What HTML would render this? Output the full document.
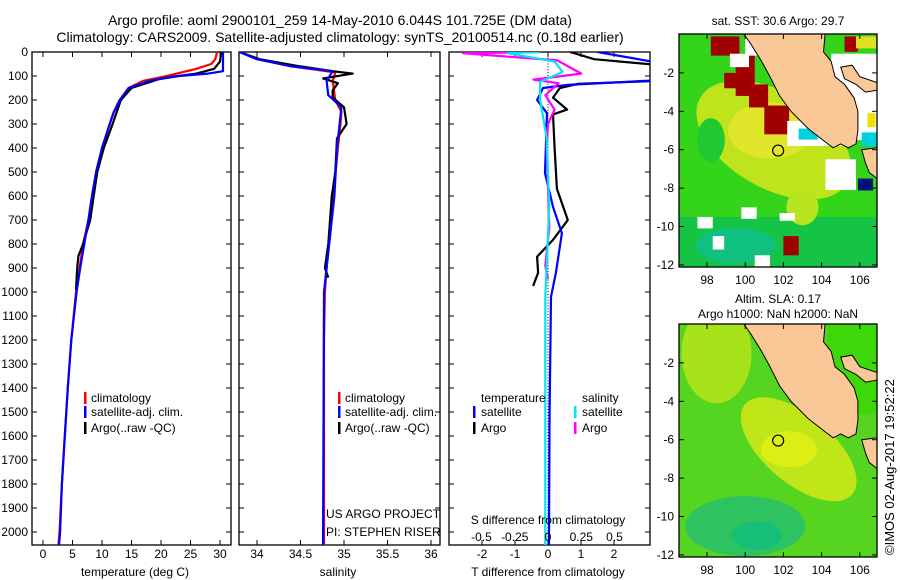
<!DOCTYPE html>
<html><head><meta charset="utf-8">
<style>
html,body{margin:0;padding:0;background:#fff;width:900px;height:580px;overflow:hidden}
svg{display:block;font-family:"Liberation Sans",sans-serif}
text{fill:#000}
</style></head>
<body>
<svg id="fig" width="900" height="580" viewBox="0 0 900 580" xmlns="http://www.w3.org/2000/svg">
<defs>
<clipPath id="c1"><rect x="32" y="52" width="199" height="493"/></clipPath>
<clipPath id="c2"><rect x="239" y="52" width="201" height="493"/></clipPath>
<clipPath id="c3"><rect x="449" y="52" width="201" height="493"/></clipPath>
<clipPath id="m1"><rect x="679" y="34" width="198" height="233"/></clipPath>
<clipPath id="m2"><rect x="679" y="324" width="198" height="233"/></clipPath>
</defs>
<text x="340" y="25" font-size="14" text-anchor="middle">Argo profile: aoml 2900101_259 14-May-2010 6.044S 101.725E (DM data)</text>
<text x="340" y="42" font-size="14" text-anchor="middle">Climatology: CARS2009. Satellite-adjusted climatology: synTS_20100514.nc (0.18d earlier)</text>
<g id="panels"></g>
<g id="maps"></g>
<text transform="translate(894,555) rotate(-90)" font-size="13">©IMOS 02-Aug-2017 19:52:22</text>
</svg>
<script>
// ---- data (depth in m) ----
const tClimDepth=[0,30,50,70,100,120,150,200,250,300,400,500,600,700,800,900,1000,1200,1400,1600,1800,2000,2060];
const tClimVal=[29.5,29.2,28.5,26,21,17,14.5,13,12,11.3,10,9,8.3,7.7,6.8,6.2,5.6,4.8,4.2,3.7,3.2,2.8,2.6];
const tSatDepth=[0,80,90,100,120,150,200,250,300,400,500,600,700,800,900,1000,1200,1400,1600,1800,2000,2060];
const tSatVal=[30.5,30.5,28,23,18,14.5,13,12,11.3,10,9,8.3,7.7,7,6.3,5.7,4.8,4.2,3.7,3.2,2.9,2.7];
const tArgoDepth=[0,40,70,90,110,150,200,300,400,500,600,700,800,850,900,990];
const tArgoVal=[30.2,30,29,26,20,15,13.2,11.8,10.3,9.2,8.6,8,6.8,6,5.8,5.6];
const sClimDepth=[0,30,60,85,120,200,250,300,400,700,900,1000,1200,2060];
const sClimVal=[33.8,34.0,34.4,34.9,34.87,34.9,34.97,34.96,34.93,34.85,34.8,34.78,34.77,34.77];
const sSatDepth=[0,30,60,80,120,180,230,400,600,900,1000,2000,2060];
const sSatVal=[33.8,34.0,34.4,34.87,34.8,34.82,34.97,34.92,34.89,34.8,34.77,34.76,34.76];
const sArgoDepth=[0,30,60,80,90,110,130,160,190,230,300,360,500,600,800,900,940];
const sArgoVal=[33.8,34.03,34.5,34.87,35.1,34.76,34.93,34.87,34.87,35.0,35.03,34.92,34.9,34.86,34.82,34.78,34.82];
const dtSatDepth=[0,46,117,137,150,200,255,505,645,755,920,1020,1500,2000,2060];
const dtSatVal=[1.5,3.4,3.4,0.6,-0.15,-0.33,-0.03,-0.09,0.15,0.42,0.24,0.09,0.05,0.03,0.03];
const dtArgoDepth=[0,30,55,120,133,150,190,240,260,400,570,700,783,853,920,975];
const dtArgoVal=[0.67,1.4,3.4,3.4,0.9,0.36,0.15,0.58,0.15,0.2,0.27,0.6,0.15,-0.33,-0.3,-0.45];
const dsSatDepth=[0,5,40,83,125,195,360,645,1020,1500,2000,2060];
const dsSatVal=[-0.06,-0.3,0.05,0.11,-0.06,-0.06,-0.01,0.01,-0.02,-0.02,-0.02,-0.02];
const dsArgoDepth=[0,5,35,90,115,130,180,240,300,400,730,890,945];
const dsArgoVal=[-0.06,-0.64,0.07,0.25,-0.11,0.08,-0.02,0.05,0.0,-0.01,0.01,-0.02,0.0];
const depthTicks=[0,100,200,300,400,500,600,700,800,900,1000,1100,1200,1300,1400,1500,1600,1700,1800,1900,2000];
const tempTicks=[0,5,10,15,20,25,30];
const salTicks=[34,34.5,35,35.5,36];
const dtTicks=[-2,-1,0,1,2];
const dsTicks=[-0.5,-0.25,0,0.25,0.5];

const NS="http://www.w3.org/2000/svg";
const P=document.getElementById('panels');
function mk(tag,attrs,parent){const e=document.createElementNS(NS,tag);for(const k in attrs)e.setAttribute(k,attrs[k]);(parent||P).appendChild(e);return e;}
const yD=d=>52+d*0.24;
const xT=v=>43+v*5.9;
const xS=v=>257+(v-34)*87;
const xDT=v=>548+v*33;
const xDS=v=>548+v*133;

function frame(x,w,name){
  const r=mk('rect',{x:x,y:52,width:w,height:493,fill:'none',stroke:'#000','stroke-width':1.3});
  
  
  depthTicks.forEach(d=>{
    mk('line',{x1:x,x2:x+5,y1:yD(d),y2:yD(d),stroke:'#000'});
    mk('line',{x1:x+w-5,x2:x+w,y1:yD(d),y2:yD(d),stroke:'#000'});
  });
}
function xticks(ticks,fx,name,fmt){
  ticks.forEach(t=>{
    const x=fx(t);
    mk('line',{x1:x,x2:x,y1:545,y2:540,stroke:'#000'});
    mk('line',{x1:x,x2:x,y1:52,y2:57,stroke:'#000'});
    const tx=mk('text',{x:x,y:558,'font-size':12,'text-anchor':'middle'});
    tx.textContent=fmt?fmt(t):String(t);
    
    
  });
}
function line(ds,vs,fx,color,clip,name,w){
  const pts=ds.map((d,i)=>fx(vs[i]).toFixed(1)+','+yD(d).toFixed(1)).join(' ');
  const l=mk('polyline',{points:pts,fill:'none',stroke:color,'stroke-width':w||2.2,'clip-path':'url(#'+clip+')','stroke-linejoin':'round'});
  
  
}
function label(x,y,s,name,anchor,size){
  const t=mk('text',{x:x,y:y,'font-size':size||12,'text-anchor':anchor||'start'});
  t.textContent=s;
  
  
}
function legBar(x,y,color,name){
  const r=mk('rect',{x:x,y:y-10,width:2.5,height:12,fill:color});
  
  
}
// panel 1
frame(32,199,'temperature-panel');
depthTicks.forEach(d=>label(28,yD(d)+4,String(d),'depth-tick-label','end'));
xticks(tempTicks,xT,'temperature-tick-label');
line(tClimDepth,tClimVal,xT,'#ff0000','c1','temperature-climatology-line');
line(tArgoDepth,tArgoVal,xT,'#000000','c1','temperature-argo-line');
line(tSatDepth,tSatVal,xT,'#0000ff','c1','temperature-satellite-line');
label(135,576,'temperature (deg C)','temperature-axis-title','middle');
legBar(84,402,'#ff0000','legend-climatology-marker');label(91,402,'climatology','legend-climatology');
legBar(84,416,'#0000ff','legend-satellite-marker');label(91,416,'satellite-adj. clim.','legend-satellite');
legBar(84,432,'#000','legend-argo-marker');label(91,432,'Argo(..raw -QC)','legend-argo');
// panel 2
frame(239,201,'salinity-panel');
xticks(salTicks,xS,'salinity-tick-label');
line(sClimDepth,sClimVal,xS,'#ff0000','c2','salinity-climatology-line');
line(sArgoDepth,sArgoVal,xS,'#000000','c2','salinity-argo-line');
line(sSatDepth,sSatVal,xS,'#0000ff','c2','salinity-satellite-line');
label(338,576,'salinity','salinity-axis-title','middle');
legBar(338,402,'#ff0000','legend2-climatology-marker');label(345,402,'climatology','legend2-climatology');
legBar(338,416,'#0000ff','legend2-satellite-marker');label(345,416,'satellite-adj. clim.','legend2-satellite');
legBar(338,432,'#000','legend2-argo-marker');label(345,432,'Argo(..raw -QC)','legend2-argo');
label(326,518,'US ARGO PROJECT','project-label');
label(326,536,'PI: STEPHEN RISER','pi-label');
// panel 3
frame(449,201,'difference-panel');
xticks(dtTicks,xDT,'t-difference-tick-label');
for(let d=0;d<=2060;d+=12){mk('rect',{x:547.5,y:yD(d),width:1,height:1,fill:'#000'});}
line(dtArgoDepth,dtArgoVal,xDT,'#000000','c3','t-difference-argo-line');
line(dtSatDepth,dtSatVal,xDT,'#0000ff','c3','t-difference-satellite-line');
line(dsArgoDepth,dsArgoVal,xDS,'#ff00ff','c3','s-difference-argo-line');
line(dsSatDepth,dsSatVal,xDS,'#00e5ee','c3','s-difference-satellite-line');
label(548,576,'T difference from climatology','t-difference-axis-title','middle');
label(548,524,'S difference from climatology','s-difference-axis-title','middle');
dsTicks.forEach(t=>label(xDS(t),541,String(t),'s-difference-tick-label','middle'));
label(481,402,'temperature','legend3-temperature-header');
label(582,402,'salinity','legend3-salinity-header');
legBar(473,416,'#0000ff','legend3-t-satellite-marker');label(481,416,'satellite','legend3-t-satellite');
legBar(473,432,'#000','legend3-t-argo-marker');label(481,432,'Argo','legend3-t-argo');
legBar(574,416,'#00e5ee','legend3-s-satellite-marker');label(582,416,'satellite','legend3-s-satellite');
legBar(574,432,'#ff00ff','legend3-s-argo-marker');label(582,432,'Argo','legend3-s-argo');

// ---- maps ----
const M=document.getElementById('maps');
function mm(tag,attrs,parent){return mk(tag,attrs,parent||M);}
const lonX=lon=>707+(lon-98)*19.1;
const latY=(lat,top)=>top+0.5-lat*19.2;
const landPoly=[[99.8,0.2],[100.3,-0.5],[100.8,-1.3],[101.3,-2.2],[101.8,-3.2],[102.4,-4.0],[103.3,-4.9],[104.2,-5.6],[104.6,-5.9],[105.0,-5.7],[105.4,-5.9],[105.8,-5.7],[105.9,-5.0],[105.9,-4.0],[105.7,-3.3],[105.2,-2.6],[104.7,-2.2],[104.5,-1.4],[104.1,-0.9],[104.2,0.2]];
const bangka=[[105.0,-1.7],[105.6,-1.6],[106.0,-2.2],[106.9,-2.5],[106.9,-2.9],[106.3,-3.0],[105.8,-2.6],[105.2,-2.3]];
const java=[[106.1,-6.0],[106.9,-5.9],[106.9,-7.5],[106.5,-7.2],[106.3,-6.7]];
function poly(arr,top,fill,g,name){
  const p=mm('polygon',{points:arr.map(a=>lonX(a[0]).toFixed(1)+','+latY(a[1],top).toFixed(1)).join(' '),fill:fill,stroke:'#000','stroke-width':1},g);
  
  
}
function mapAxes(top,name){
  const r=mm('rect',{x:679,y:top,width:198,height:233,fill:'none',stroke:'#000','stroke-width':1.3});
  
  
  [98,100,102,104,106].forEach(l=>{const x=lonX(l);mm('line',{x1:x,x2:x,y1:top+233,y2:top+228,stroke:'#000'});mm('line',{x1:x,x2:x,y1:top,y2:top+5,stroke:'#000'});
    const t=mm('text',{x:x,y:top+250,'font-size':12,'text-anchor':'middle'});t.textContent=String(l);});
  [-2,-4,-6,-8,-10,-12].forEach(l=>{const y=latY(l,top);mm('line',{x1:679,x2:684,y1:y,y2:y,stroke:'#000'});mm('line',{x1:872,x2:877,y1:y,y2:y,stroke:'#000'});
    const t=mm('text',{x:674,y:y+4,'font-size':12,'text-anchor':'end'});t.textContent=String(l);});
}
// map 1 SST
const g1=mm('g',{'clip-path':'url(#m1)'});


mm('rect',{x:679,y:34,width:198,height:233,fill:'#33d41a'},g1);
mm('ellipse',{cx:lonX(101.5),cy:latY(-5.5,34),rx:85,ry:48,fill:'#c0e41c',transform:'rotate(30 '+lonX(101.5)+' '+latY(-5.5,34)+')'},g1);
mm('ellipse',{cx:lonX(101.3),cy:latY(-5.0,34),rx:42,ry:28,fill:'#e2e62a'},g1);
mm('rect',{x:679,y:latY(-9.5,34),width:198,height:60,fill:'#16c445'},g1);
mm('ellipse',{cx:lonX(99.5),cy:latY(-11,34),rx:40,ry:18,fill:'#10c080'},g1);
mm('ellipse',{cx:lonX(103),cy:latY(-9,34),rx:16,ry:18,fill:'#b8e420'},g1);
mm('ellipse',{cx:lonX(98.2),cy:latY(-5.5,34),rx:14,ry:22,fill:'#22c830'},g1);
[[98.2,-0.1,1.5,1],[99.5,-1.0,1.0,2.2],[98.9,-2.0,1.2,0.8],[100.2,-2.6,1.0,1.2],[101.0,-3.7,1.3,1.5],[102.5,-4.8,1.2,0.6],[105.2,-0.1,0.7,0.8],[102.0,-10.5,0.8,1.0]].forEach(b=>{
  mm('rect',{x:lonX(b[0]),y:latY(b[1],34),width:b[2]*19.1,height:b[3]*19.2,fill:'#a00000'},g1);});
[[99.2,-1.0,1.0,0.7],[100,-0.1,2.5,1.0],[102.2,-4.5,3.5,1.3],[104.5,-1.0,2.5,4.5],[99.8,-9.0,0.8,0.6],[98.3,-10.5,0.6,0.7],[104.2,-6.5,1.6,1.6],[97.5,-9.5,0.8,0.6],[100.5,-11.5,0.8,0.6],[101.8,-9.3,0.8,0.4]].forEach(b=>{
  mm('rect',{x:lonX(b[0]),y:latY(b[1],34),width:b[2]*19.1,height:b[3]*19.2,fill:'#ffffff'},g1);});
mm('rect',{x:lonX(102.8),y:latY(-4.9,34),width:19,height:11,fill:'#00d2dd'},g1);
mm('rect',{x:lonX(106.1),y:latY(-5.1,34),width:15,height:14,fill:'#00d2dd'},g1);
mm('rect',{x:lonX(105.9),y:latY(-7.5,34),width:15,height:12,fill:'#00107a'},g1);
mm('rect',{x:lonX(106.4),y:latY(-4.1,34),width:8,height:14,fill:'#f0e000'},g1);
mm('rect',{x:lonX(105.8),y:latY(-0.1,34),width:20,height:12,fill:'#e0e020'},g1);
poly(landPoly,34,'#f9c896',g1,'sst-map-land');
poly(bangka,34,'#f9c896',g1,'sst-map-bangka');
poly(java,34,'#f9c896',g1,'sst-map-java');
mm('circle',{cx:lonX(101.725),cy:latY(-6.044,34),r:5.5,fill:'none',stroke:'#000','stroke-width':1.2},g1);
mapAxes(34,'sst-map-frame');
label(778,25,'sat. SST: 30.6 Argo: 29.7','sst-map-title','middle');
// map 2 SLA
const g2=mm('g',{'clip-path':'url(#m2)'});


mm('rect',{x:679,y:324,width:198,height:233,fill:'#55d420'},g2);
mm('ellipse',{cx:lonX(98.5),cy:latY(-1.5,324),rx:35,ry:50,fill:'#a8e21a'},g2);
mm('ellipse',{cx:lonX(102.8),cy:latY(-6.5,324),rx:70,ry:34,fill:'#c0e61a',transform:'rotate(40 '+lonX(102.8)+' '+latY(-6.5,324)+')'},g2);
mm('ellipse',{cx:lonX(102.3),cy:latY(-6.5,324),rx:28,ry:18,fill:'#dcee14'},g2);
mm('ellipse',{cx:lonX(100),cy:latY(-10.5,324),rx:60,ry:30,fill:'#2ec260'},g2);
mm('ellipse',{cx:lonX(100.6),cy:latY(-11,324),rx:25,ry:14,fill:'#16be78'},g2);
mm('rect',{x:lonX(104.3),y:324,width:60,height:90,fill:'#3ed80a'},g2);
poly(landPoly,324,'#f9c896',g2,'sla-map-land');
poly(bangka,324,'#f9c896',g2,'sla-map-bangka');
poly(java,324,'#f9c896',g2,'sla-map-java');
mm('circle',{cx:lonX(101.725),cy:latY(-6.044,324),r:5.5,fill:'none',stroke:'#000','stroke-width':1.2},g2);
mapAxes(324,'sla-map-frame');
label(778,303,'Altim. SLA: 0.17','sla-map-title','middle');
label(778,318,'Argo h1000: NaN h2000: NaN','sla-map-subtitle','middle');
</script>
</body></html>
